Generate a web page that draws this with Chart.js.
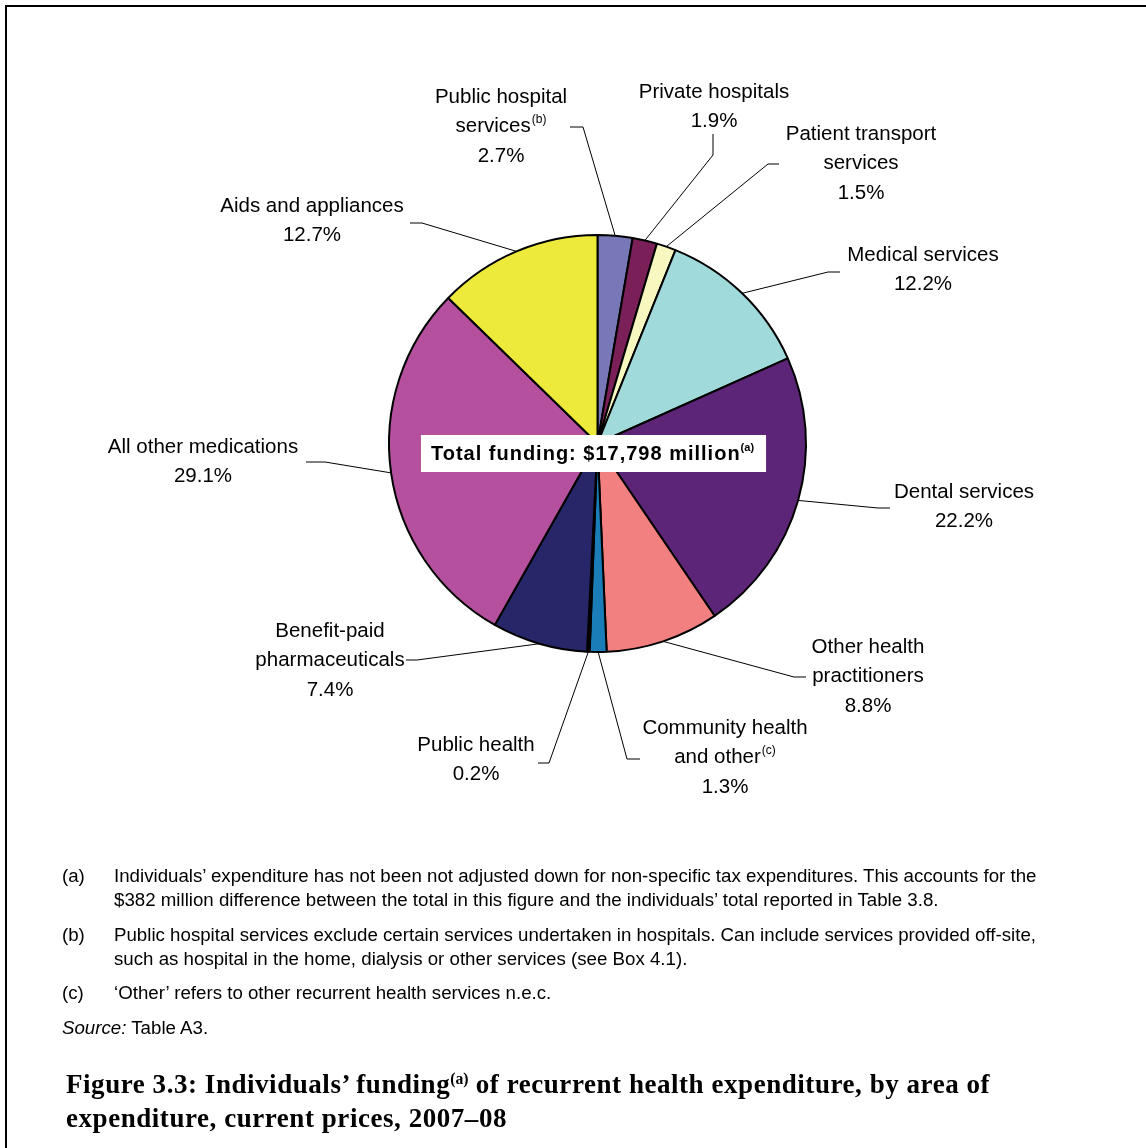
<!DOCTYPE html>
<html>
<head>
<meta charset="utf-8">
<script src="https://cdn.jsdelivr.net/npm/chart.js@4.4.1/dist/chart.umd.min.js"></script>
<style>
  html, body { margin: 0; padding: 0; background: #fff; }
  body { width: 1146px; height: 1148px; position: relative; overflow: hidden; }
  #frame { position: absolute; left: 5px; top: 5px; width: 1141px; height: 1143px;
           border-top: 2px solid #000; border-left: 2px solid #000; }
  #pie { position: absolute; left: 0; top: 0; }
  .note { position: absolute; font-family: "Liberation Sans", Arial, sans-serif; font-size: 18.7px;
          line-height: 23.5px; color: #000; white-space: nowrap; }
  .note .k { position: absolute; left: 0; }
  .title { position: absolute; left: 66px; top: 1069px; font-family: "Liberation Serif", "Times New Roman", serif;
           font-weight: bold; font-size: 27px; letter-spacing: 0.55px; line-height: 31px; color: #000; white-space: nowrap; }
  sup { font-size: 58%; vertical-align: 0; position: relative; top: -0.55em; letter-spacing: 0; }
</style>
</head>
<body>
<div id="frame"></div>
<canvas id="pie" width="1146" height="1148"></canvas>

<div class="note" style="left:62px; top:864px;"><span class="k">(a)</span><div style="margin-left:52px">Individuals’ expenditure has not been not adjusted down for non-specific tax expenditures. This accounts for the<br>$382 million difference between the total in this figure and the individuals’ total reported in Table 3.8.</div></div>
<div class="note" style="left:62px; top:923px;"><span class="k">(b)</span><div style="margin-left:52px">Public hospital services exclude certain services undertaken in hospitals. Can include services provided off-site,<br>such as hospital in the home, dialysis or other services (see Box 4.1).</div></div>
<div class="note" style="left:62px; top:981px;"><span class="k">(c)</span><div style="margin-left:52px">‘Other’ refers to other recurrent health services n.e.c.</div></div>
<div class="note" style="left:62px; top:1016px;"><i>Source:</i> Table A3.</div>

<div class="title">Figure 3.3: Individuals’ funding<sup>(a)</sup> of recurrent health expenditure, by area of<br>expenditure, current prices, 2007–08</div>

<script>
// data (share of total, %)
const categories = [
  ["Public hospital", "services"],
  ["Private hospitals"],
  ["Patient transport", "services"],
  ["Medical services"],
  ["Dental services"],
  ["Other health", "practitioners"],
  ["Community health", "and other"],
  ["Public health"],
  ["Benefit-paid", "pharmaceuticals"],
  ["All other medications"],
  ["Aids and appliances"]
];
const noteMarks = ["(b)", "", "", "", "", "", "(c)", "", "", "", ""];
const shares = [2.7, 1.9, 1.5, 12.2, 22.2, 8.8, 1.3, 0.2, 7.4, 29.1, 12.7];
const totalText = "Total funding: $17,798 million";
const totalMark = "(a)";

const colours = ["#7878b8", "#7a1f58", "#f7f7c0", "#a0dada", "#5c2577", "#f28080",
                 "#1a7db8", "#111111", "#262668", "#b4509e", "#eeea3c"];

// label layout: text centre x, first-line centre y, leader elbow and end
const labelAt = [
  [501, 97], [714, 92], [861, 134], [923, 255], [964, 492], [868, 647],
  [725, 728], [476, 745], [330, 631], [203, 447], [312, 206]
];
const leaders = [
  [583, 127, 570, 127], [713, 155, 713, 134], [768, 164, 779, 164], [828, 272, 840, 272],
  [878, 508, 890, 508], [794, 677, 806, 677], [627, 759, 640, 759], [549, 763, 538, 763],
  [417, 660, 406, 660], [325, 462, 306, 462], [422, 223, 410, 223]
];
const LINE_H = 29.5;
const FONT = '"Liberation Sans", Arial, sans-serif';

const labelPlugin = {
  id: "pieLabels",
  afterDraw(chart) {
    const ctx = chart.ctx;
    const arcs = chart.getDatasetMeta(0).data;
    ctx.save();
    // leader lines
    ctx.strokeStyle = "#000";
    ctx.lineWidth = 1;
    arcs.forEach((arc, i) => {
      const p = arc.getProps(["x", "y", "startAngle", "endAngle", "outerRadius"], true);
      const mid = (p.startAngle + p.endAngle) / 2;
      const sx = p.x + Math.cos(mid) * p.outerRadius;
      const sy = p.y + Math.sin(mid) * p.outerRadius;
      const [ex, ey, tx, ty] = leaders[i];
      ctx.beginPath();
      ctx.moveTo(sx, sy);
      ctx.lineTo(ex, ey);
      ctx.lineTo(tx, ty);
      ctx.stroke();
    });
    // label text
    ctx.fillStyle = "#000";
    ctx.textBaseline = "middle";
    categories.forEach((lines, i) => {
      const [cx, cy] = labelAt[i];
      const all = lines.concat([shares[i].toFixed(1) + "%"]);
      all.forEach((t, j) => {
        const y = cy + j * LINE_H;
        ctx.font = "20.5px " + FONT;
        const mark = (j === lines.length - 1) ? noteMarks[i] : "";
        const w = ctx.measureText(t).width;
        ctx.font = "12px " + FONT;
        const mw = mark ? ctx.measureText(mark).width + 1 : 0;
        const x0 = cx - (w + mw) / 2;
        ctx.font = "20.5px " + FONT;
        ctx.textAlign = "left";
        ctx.fillText(t, x0, y);
        if (mark) {
          ctx.font = "12px " + FONT;
          ctx.fillText(mark, x0 + w + 1, y - 7);
        }
      });
    });
    // centre box
    const c = arcs[0].getProps(["x", "y"], true);
    ctx.letterSpacing = "1px";
    ctx.font = "bold 20px " + FONT;
    const tw = ctx.measureText(totalText).width;
    ctx.letterSpacing = "0px";
    ctx.font = "bold 11px " + FONT;
    const mw = ctx.measureText(totalMark).width;
    const boxW = tw + mw + 22, boxH = 37;
    const bx = c.x - boxW / 2 - 4, by = c.y - 8.5;
    ctx.fillStyle = "#fff";
    ctx.fillRect(bx, by, boxW, boxH);
    ctx.fillStyle = "#000";
    ctx.letterSpacing = "1px";
    ctx.font = "bold 20px " + FONT;
    ctx.fillText(totalText, bx + 10, by + boxH / 2 + 1);
    ctx.letterSpacing = "0px";
    ctx.font = "bold 11px " + FONT;
    ctx.fillText(totalMark, bx + 10 + tw, by + boxH / 2 - 6);
    ctx.restore();
  }
};

new Chart(document.getElementById("pie"), {
  type: "pie",
  data: {
    labels: categories.map(l => l.join(" ")),
    datasets: [{
      data: shares,
      backgroundColor: colours,
      borderColor: "#000",
      borderWidth: 2,
      hoverOffset: 0
    }]
  },
  options: {
    responsive: false,
    animation: false,
    devicePixelRatio: 1,
    layout: { padding: { left: 388, top: 234, right: 339, bottom: 495 } },
    plugins: { legend: { display: false }, tooltip: { enabled: false } },
    events: []
  },
  plugins: [labelPlugin]
});
</script>
</body>
</html>
